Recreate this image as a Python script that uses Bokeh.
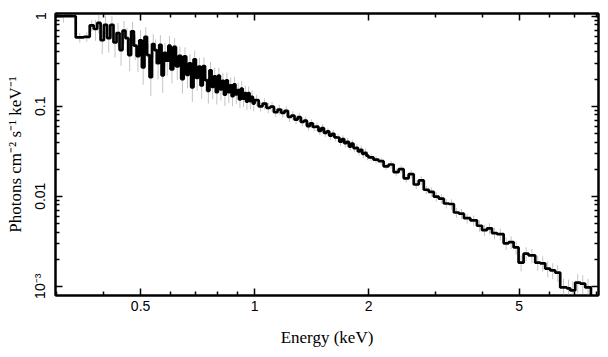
from bokeh.plotting import figure
from bokeh.models import FixedTicker, LogAxis, CustomJSTickFormatter, ColumnDataSource
from bokeh.embed import file_html
from bokeh.resources import INLINE

# ---- spectrum data: bin edges (keV), flux (photons cm^-2 s^-1 keV^-1), relative errors ----
edges_first = [0.290, 0.337, 0.354, 0.367, 0.376]
flux_first = [1.00, 0.58, 0.59, 0.79]
relerr_first = [0.15, 0.12, 0.12, 0.14]

edges_soft1 = [0.376, 0.384, 0.392, 0.400, 0.408, 0.416, 0.424, 0.432, 0.440, 0.448, 0.456,
               0.464, 0.472, 0.480, 0.488, 0.496, 0.504, 0.512, 0.520, 0.528, 0.536, 0.544,
               0.552, 0.560, 0.568, 0.576, 0.584, 0.592, 0.600]
flux_soft1 = [0.72, 0.84, 0.54, 0.80, 0.57, 0.80, 0.51, 0.65, 0.42, 0.69, 0.57, 0.37, 0.68,
              0.47, 0.36, 0.54, 0.27, 0.59, 0.37, 0.21, 0.49, 0.42, 0.30, 0.48, 0.22, 0.39,
              0.32, 0.47]
relerr_soft1 = [0.26, 0.24, 0.30, 0.27, 0.31, 0.25, 0.32, 0.29, 0.33, 0.28, 0.30, 0.34, 0.27,
                0.31, 0.33, 0.29, 0.36, 0.28, 0.32, 0.38, 0.29, 0.31, 0.34, 0.28, 0.36, 0.30,
                0.32, 0.28]

edges_soft2 = [0.600, 0.610, 0.620, 0.630, 0.640, 0.650, 0.660, 0.670, 0.680, 0.690, 0.700,
               0.710, 0.720, 0.730, 0.740, 0.750, 0.760, 0.770, 0.780, 0.790, 0.800, 0.810,
               0.820, 0.830, 0.840, 0.850, 0.860, 0.870, 0.880, 0.890, 0.900, 0.910, 0.920,
               0.930, 0.940, 0.950, 0.960, 0.970, 0.980, 0.990, 1.000]
flux_soft2 = [0.257, 0.455, 0.277, 0.363, 0.200, 0.357, 0.223, 0.300, 0.162, 0.332, 0.206,
              0.276, 0.170, 0.279, 0.195, 0.148, 0.250, 0.164, 0.214, 0.143, 0.218, 0.154,
              0.191, 0.134, 0.194, 0.143, 0.170, 0.129, 0.175, 0.135, 0.151, 0.119, 0.157,
              0.121, 0.140, 0.112, 0.140, 0.114, 0.127, 0.107]
relerr_soft2 = [0.30, 0.25, 0.29, 0.27, 0.31, 0.26, 0.29, 0.27, 0.31, 0.25, 0.28, 0.26, 0.29,
                0.25, 0.27, 0.28, 0.24, 0.27, 0.25, 0.27, 0.23, 0.25, 0.23, 0.25, 0.22, 0.24,
                0.22, 0.23, 0.21, 0.22, 0.21, 0.20, 0.21, 0.19, 0.20, 0.19, 0.18, 0.19, 0.18,
                0.18]

edges_mid = [1.000, 1.025, 1.050, 1.075, 1.100, 1.125, 1.150, 1.175, 1.200, 1.225, 1.250,
             1.275, 1.300, 1.325, 1.350, 1.375, 1.400, 1.425, 1.450, 1.475, 1.500, 1.525,
             1.550, 1.575, 1.600, 1.625, 1.650, 1.675, 1.700, 1.725, 1.750, 1.775, 1.800,
             1.825, 1.850, 1.875, 1.900, 1.925, 1.950, 1.975, 2.000]
flux_mid = [0.117, 0.0996, 0.107, 0.096, 0.0988, 0.0856, 0.0917, 0.0843, 0.0888, 0.076,
            0.0785, 0.0710, 0.0756, 0.0669, 0.0690, 0.0602, 0.0645, 0.0588, 0.0592, 0.0532,
            0.0572, 0.0504, 0.0525, 0.0470, 0.0494, 0.0451, 0.0449, 0.0404, 0.0432, 0.0388,
            0.0402, 0.0356, 0.0385, 0.0343, 0.0345, 0.0314, 0.0328, 0.0296, 0.0304, 0.0282]
relerr_mid = [0.14, 0.13, 0.14, 0.13, 0.13, 0.12, 0.13, 0.12, 0.12, 0.12, 0.12, 0.11, 0.12,
              0.11, 0.11, 0.11, 0.11, 0.11, 0.11, 0.10, 0.11, 0.10, 0.10, 0.10, 0.10, 0.10,
              0.10, 0.10, 0.10, 0.10, 0.10, 0.10, 0.10, 0.10, 0.10, 0.10, 0.11, 0.11, 0.11,
              0.11]

edges_hard = [2.000, 2.062, 2.126, 2.192, 2.260, 2.330, 2.402, 2.477, 2.553, 2.633, 2.714,
              2.799, 2.885, 2.975, 3.067, 3.162, 3.260, 3.361, 3.466, 3.573, 3.715]
flux_hard = [0.027, 0.0255, 0.0245, 0.0215, 0.0225, 0.0185, 0.0200, 0.0158, 0.0176, 0.0135,
             0.0150, 0.0118, 0.0112, 0.0099, 0.0094, 0.0083, 0.0082, 0.0066, 0.0064, 0.0057]
relerr_hard = [0.09, 0.09, 0.09, 0.09, 0.10, 0.10, 0.10, 0.10, 0.11, 0.11, 0.11, 0.11, 0.12,
               0.12, 0.12, 0.12, 0.13, 0.13, 0.13, 0.13]

edges_top = [3.715, 3.868, 3.988, 4.111, 4.238, 4.369, 4.549, 4.690, 4.833, 4.982, 5.136,
             5.294, 5.513, 5.683, 5.858, 6.039, 6.225, 6.417, 6.683, 6.820, 7.030, 7.250,
             7.470, 7.735, 8.400]
flux_top = [0.0054, 0.0047, 0.0042, 0.0044, 0.0039, 0.0038, 0.0030, 0.0031, 0.0027, 0.00183,
            0.0023, 0.0022, 0.00183, 0.0018, 0.00157, 0.0015, 0.00142, 0.00097, 0.00095,
            0.00090, 0.0011, 0.00107, 0.00097, 0.0005]
relerr_top = [0.13, 0.14, 0.14, 0.14, 0.15, 0.15, 0.16, 0.16, 0.17, 0.20, 0.18, 0.18, 0.19,
              0.19, 0.20, 0.20, 0.21, 0.25, 0.25, 0.26, 0.24, 0.24, 0.25, 0.0]

# ---- axis ticks and labels ----
x_tick_values = [0.5, 1, 2, 5]
x_tick_labels = ["0.5", "1", "2", "5"]
x_minor_values = [0.3, 0.4, 0.6, 0.7, 0.8, 0.9, 3, 4, 6, 7, 8]
y_tick_values = [0.001, 0.01, 0.1, 1]
y_tick_labels = ["10\u207b\u00b3", "0.01", "0.1", "1"]
y_minor_values = [m * d for d in (0.001, 0.01, 0.1) for m in range(2, 10)]

x_label = "Energy (keV)"
y_label = "Photons cm\u207b\u00b2 s\u207b\u00b9 keV\u207b\u00b9"

# ---- assemble ----
edges = (edges_first + edges_soft1[1:] + edges_soft2[1:] + edges_mid[1:]
         + edges_hard[1:] + edges_top[1:])
flux = flux_first + flux_soft1 + flux_soft2 + flux_mid + flux_hard + flux_top
relerr = relerr_first + relerr_soft1 + relerr_soft2 + relerr_mid + relerr_hard + relerr_top

centers = [(a * b) ** 0.5 for a, b in zip(edges[:-1], edges[1:])]
lo = [f * (1 - r) for f, r in zip(flux, relerr)]
hi = [f * (1 + r) for f, r in zip(flux, relerr)]

err_src = ColumnDataSource(dict(x=centers, lo=lo, hi=hi))
step_src = ColumnDataSource(dict(x=edges, y=flux + [flux[-1]]))

p = figure(width=608, height=357, x_axis_type="log", y_axis_type="log",
           x_range=(0.298, 8.1), y_range=(7.9e-4, 1.07),
           output_backend="svg", toolbar_location=None,
           min_border_left=55, min_border_right=10, min_border_top=13, min_border_bottom=62)
p.background_fill_color = "white"
p.border_fill_color = "white"
p.xgrid.visible = False
p.ygrid.visible = False
p.outline_line_color = "black"
p.outline_line_width = 2

p.segment(x0="x", y0="lo", x1="x", y1="hi", source=err_src, line_color="#c4c4c4", line_width=1)
p.step(x="x", y="y", source=step_src, mode="after", line_color="black", line_width=2.7)

fmt_code = """
for (let i = 0; i < vals.length; i++) {
  if (Math.abs(Math.log10(tick) - Math.log10(vals[i])) < 1e-6) return labels[i];
}
return "";
"""
xfmt = CustomJSTickFormatter(args=dict(vals=x_tick_values, labels=x_tick_labels), code=fmt_code)
yfmt = CustomJSTickFormatter(args=dict(vals=y_tick_values, labels=y_tick_labels), code=fmt_code)
blank = CustomJSTickFormatter(code="return '';")


def style(ax, ticks, minors, fmt, show):
    ax.ticker = FixedTicker(ticks=ticks, minor_ticks=minors)
    ax.formatter = fmt
    ax.major_tick_in = 7
    ax.major_tick_out = 0
    ax.minor_tick_in = 4
    ax.minor_tick_out = 0
    ax.major_tick_line_color = "black"
    ax.minor_tick_line_color = "black"
    ax.major_tick_line_width = 1.5
    ax.minor_tick_line_width = 1.5
    ax.axis_line_color = "black"
    ax.axis_line_width = 2
    if show:
        ax.major_label_text_font = "Liberation Sans"
        ax.major_label_text_font_size = "14px"
        ax.major_label_text_color = "black"
        ax.axis_label_text_font = "Liberation Serif"
        ax.axis_label_text_font_size = "17px"
        ax.axis_label_text_font_style = "normal"
        ax.axis_label_text_color = "black"
    else:
        ax.major_label_text_font_size = "1px"
        ax.major_label_standoff = 0


xa = p.xaxis[0]
ya = p.yaxis[0]
style(xa, x_tick_values, x_minor_values, xfmt, True)
style(ya, y_tick_values, y_minor_values, yfmt, True)
xa.axis_label = x_label
ya.axis_label = y_label
xa.major_label_standoff = 5
xa.axis_label_standoff = 14
ya.major_label_orientation = "vertical"
ya.major_label_standoff = 7
ya.axis_label_standoff = 5

top = LogAxis()
style(top, x_tick_values, x_minor_values, blank, False)
p.add_layout(top, "above")
right = LogAxis()
style(right, y_tick_values, y_minor_values, blank, False)
p.add_layout(right, "right")

open("out.html", "w").write(file_html(p, INLINE))
